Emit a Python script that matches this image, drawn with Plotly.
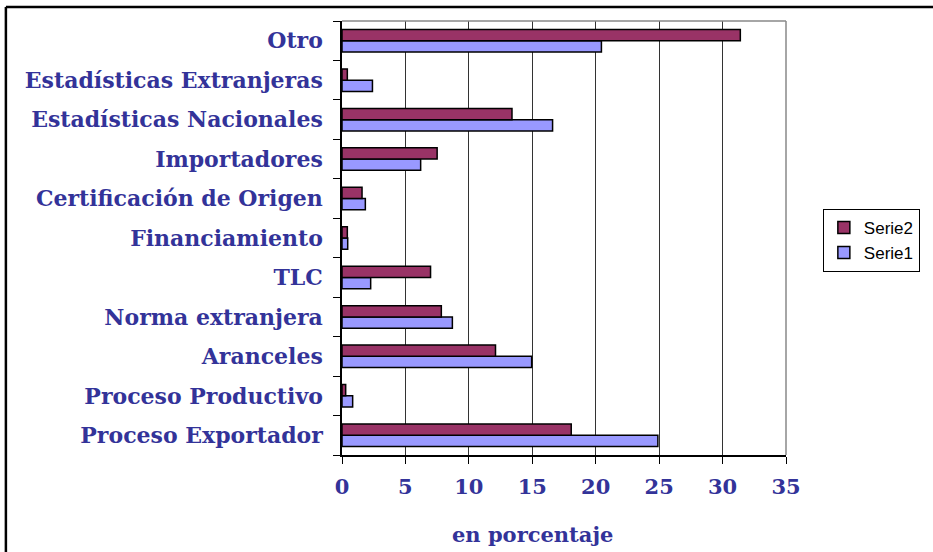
import plotly.graph_objects as go

categories = ["Proceso Exportador", "Proceso Productivo", "Aranceles", "Norma extranjera",
              "TLC", "Financiamiento", "Certificación de Origen", "Importadores",
              "Estadísticas Nacionales", "Estadísticas Extranjeras", "Otro"]
serie1 = [24.9, 0.84, 14.95, 8.7, 2.26, 0.45, 1.84, 6.2, 16.6, 2.4, 20.45]
serie2 = [18.07, 0.29, 12.1, 7.83, 6.98, 0.42, 1.58, 7.5, 13.4, 0.42, 31.4]
x_ticks = [0, 5, 10, 15, 20, 25, 30, 35]

label_color = "#333399"
serif = "DejaVu Serif, Liberation Serif, serif"

fig = go.Figure()
fig.add_trace(go.Bar(y=categories, x=serie1, name="Serie1", orientation="h",
                     marker=dict(color="#9999FF", line=dict(color="black", width=1.5))))
fig.add_trace(go.Bar(y=categories, x=serie2, name="Serie2", orientation="h",
                     marker=dict(color="#993366", line=dict(color="black", width=1.5))))

fig.update_layout(
    width=933, height=552,
    margin=dict(l=342, r=147, t=21, b=97),
    paper_bgcolor="white", plot_bgcolor="white",
    barmode="group", bargap=0.43, bargroupgap=0,
    showlegend=True,
    legend=dict(traceorder="reversed", x=1.083, xanchor="left", y=0.567, yanchor="top",
                bordercolor="black", borderwidth=1, bgcolor="white",
                font=dict(family="Liberation Sans, Arial, sans-serif", size=17, color="black"),
                itemwidth=30),
    xaxis=dict(range=[0, 35], tickvals=x_ticks, ticktext=[str(v) for v in x_ticks],
               showgrid=True, gridcolor="#333333", gridwidth=1,
               showline=True, linecolor="black", linewidth=1.5,
               ticks="outside", ticklen=7, tickcolor="black",
               tickfont=dict(family=serif, size=21, color=label_color, weight="bold"),
               ticklabelstandoff=5, zeroline=False, fixedrange=True),
    yaxis=dict(type="category", categoryorder="array", categoryarray=categories,
               tickmode="array", tickvals=categories, ticktext=categories,
               tickson="boundaries", ticks="outside", ticklen=7, tickcolor="black",
               showline=True, linecolor="black", linewidth=1.5, showgrid=False,
               tickfont=dict(family=serif, size=22, color=label_color, weight="bold"),
               ticklabelstandoff=13, fixedrange=True),
    shapes=[
        dict(type="line", xref="paper", yref="paper", x0=0, x1=1, y0=1, y1=1,
             line=dict(color="#888888", width=1.5)),
        dict(type="line", xref="paper", yref="paper", x0=1, x1=1, y0=0, y1=1,
             line=dict(color="#888888", width=1.5)),
        dict(type="line", xref="paper", yref="paper", x0=-0.757, x1=1.35, y0=1.032, y1=1.032,
             line=dict(color="black", width=2.5)),
        dict(type="line", xref="paper", yref="paper", x0=-0.757, x1=-0.757, y0=-0.25, y1=1.032,
             line=dict(color="black", width=2.5)),
    ],
    annotations=[
        dict(text="en porcentaje", xref="paper", yref="paper", x=0.428, y=-0.184,
             xanchor="center", yanchor="middle", showarrow=False,
             font=dict(family=serif, size=21, color=label_color, weight="bold")),
    ],
)

fig.write_html("out.html", config={"displayModeBar": False},
               post_script="document.body.style.margin='0';document.body.style.overflow='hidden';")
